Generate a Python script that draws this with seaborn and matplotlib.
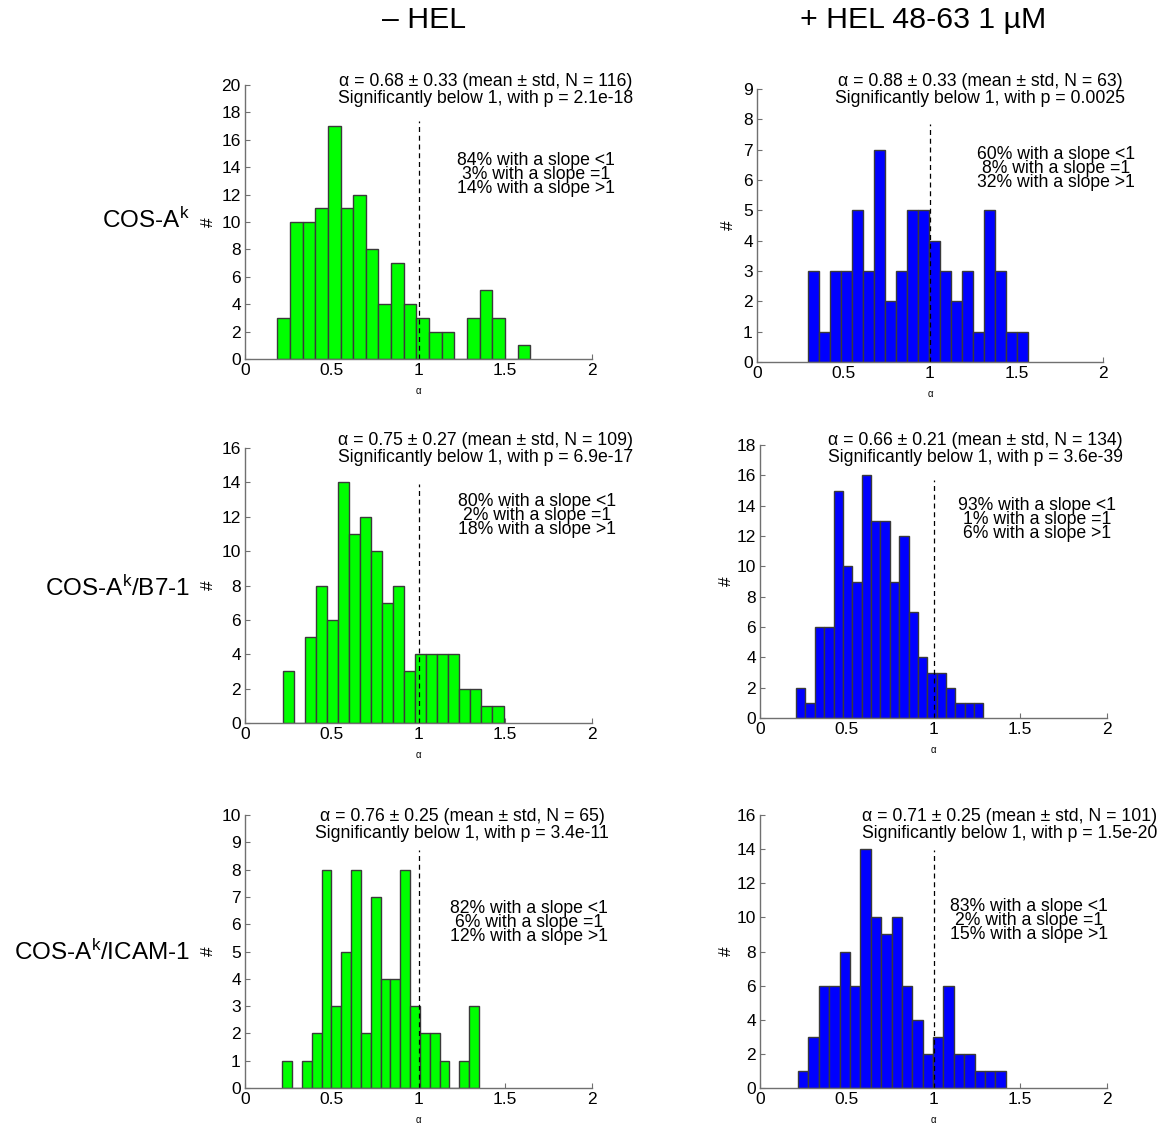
import numpy as np
import pandas as pd
import matplotlib
matplotlib.use("Agg")
import matplotlib.pyplot as plt
import seaborn as sns

# ---------------- data ----------------
col_titles = ["\u2013 HEL", "+ HEL 48-63 1 \u00b5M"]
row_titles = [r"COS-A$^{\mathrm{k}}$", r"COS-A$^{\mathrm{k}}$/B7-1", r"COS-A$^{\mathrm{k}}$/ICAM-1"]

# counts per histogram bin (20 bins each), and the bin range (min, max of alpha)
counts_cos_nohel = [3, 10, 10, 11, 17, 11, 12, 8, 4, 7, 4, 3, 2, 2, 0, 3, 5, 3, 0, 1]
range_cos_nohel = (0.186, 1.644)
counts_cos_hel = [3, 1, 3, 3, 5, 3, 7, 2, 3, 5, 5, 4, 3, 2, 3, 1, 5, 3, 1, 1]
range_cos_hel = (0.293, 1.565)
counts_b7_nohel = [3, 0, 5, 8, 6, 14, 11, 12, 10, 7, 8, 3, 4, 4, 4, 4, 2, 2, 1, 1]
range_b7_nohel = (0.217, 1.490)
counts_b7_hel = [2, 1, 6, 6, 15, 10, 9, 16, 13, 13, 9, 12, 7, 4, 3, 3, 2, 1, 1, 1]
range_b7_hel = (0.208, 1.288)
counts_icam_nohel = [1, 0, 1, 2, 8, 3, 5, 8, 2, 7, 4, 4, 8, 3, 2, 2, 1, 0, 1, 3]
range_icam_nohel = (0.215, 1.348)
counts_icam_hel = [1, 3, 6, 6, 8, 6, 14, 10, 9, 10, 6, 4, 2, 3, 6, 2, 2, 1, 1, 1]
range_icam_hel = (0.219, 1.417)

stats_line1 = [
    "\u03b1 = 0.68 \u00b1 0.33 (mean \u00b1 std, N = 116)",
    "\u03b1 = 0.88 \u00b1 0.33 (mean \u00b1 std, N = 63)",
    "\u03b1 = 0.75 \u00b1 0.27 (mean \u00b1 std, N = 109)",
    "\u03b1 = 0.66 \u00b1 0.21 (mean \u00b1 std, N = 134)",
    "\u03b1 = 0.76 \u00b1 0.25 (mean \u00b1 std, N = 65)",
    "\u03b1 = 0.71 \u00b1 0.25 (mean \u00b1 std, N = 101)",
]
stats_line2 = [
    "Significantly below 1, with p = 2.1e-18",
    "Significantly below 1, with p = 0.0025",
    "Significantly below 1, with p = 6.9e-17",
    "Significantly below 1, with p = 3.6e-39",
    "Significantly below 1, with p = 3.4e-11",
    "Significantly below 1, with p = 1.5e-20",
]
pct_below = [84, 60, 80, 93, 82, 83]
pct_equal = [3, 8, 2, 1, 6, 2]
pct_above = [14, 32, 18, 6, 12, 15]
threshold = 1.0
y_max = [20, 9, 16, 18, 10, 16]
y_step = [2, 1, 2, 2, 1, 2]
x_ticks = [0, 0.5, 1, 1.5, 2]
x_tick_labels = ["0", "0.5", "1", "1.5", "2"]

all_counts = [counts_cos_nohel, counts_cos_hel, counts_b7_nohel,
              counts_b7_hel, counts_icam_nohel, counts_icam_hel]
all_ranges = [range_cos_nohel, range_cos_hel, range_b7_nohel,
              range_b7_hel, range_icam_nohel, range_icam_hel]
colors = ["#00ff00", "#0000ff"]

# ---------------- layout (pixels) ----------------
W, H = 1172, 1124
axes_px = [  # left, top, right, bottom
    (245, 85, 592, 359),
    (757, 89, 1103, 362),
    (245, 448, 592, 723),
    (760, 445, 1107, 718),
    (245, 815, 592, 1088),
    (760, 815, 1107, 1088),
]
title_px = [(486, 82), (980, 82), (486, 441), (975, 441), (462, 817), (1010, 817)]
pct_px = [(536, 161), (1056, 155), (537, 502), (1037, 506), (529, 909), (1029, 907)]
ylab_px = [208, 728, 208, 726, 208, 726]

sns.set_style("white")
plt.rcParams["font.family"] = ["Liberation Sans", "DejaVu Sans"]
plt.rcParams["mathtext.fontset"] = "custom"
plt.rcParams["mathtext.rm"] = "Liberation Sans"
plt.rcParams["mathtext.it"] = "Liberation Sans:italic"
plt.rcParams["mathtext.bf"] = "Liberation Sans:bold"
plt.rcParams["text.color"] = "black"
plt.rcParams["axes.labelcolor"] = "black"

fig = plt.figure(figsize=(W / 100, H / 100), dpi=100)


def fx(x):
    return x / W


def fy(y):
    return 1 - y / H


spine_col = "#707070"
fs_small = 12.7
for i in range(6):
    l, t, r, b = axes_px[i]
    ax = fig.add_axes([fx(l), fy(b), (r - l) / W, (b - t) / H])
    counts = np.array(all_counts[i], dtype=float)
    lo, hi = all_ranges[i]
    edges = [float(e) for e in np.linspace(lo, hi, len(counts) + 1)]
    centers = [(edges[k] + edges[k + 1]) / 2 for k in range(len(counts))]
    df = pd.DataFrame({"alpha": centers, "n": counts})
    sns.histplot(data=df, x="alpha", weights="n", bins=edges, color=colors[i % 2],
                 edgecolor="#3a3a3a", linewidth=1.0, alpha=1.0, ax=ax)
    ax.axvline(threshold, ymin=0, ymax=0.87, color="black", linestyle=(0, (4, 3)),
               linewidth=0.9)
    ax.set_xlim(0, 2)
    ax.set_ylim(0, y_max[i])
    ax.set_xticks(x_ticks)
    ax.set_xticklabels(x_tick_labels)
    ax.set_yticks(np.arange(0, y_max[i] + 0.5, y_step[i]))
    ax.tick_params(left=True, bottom=True, direction="in", length=3.5, width=0.8,
                   color=spine_col, labelsize=12.5, pad=3, labelcolor="#000000")
    for s in ["top", "right"]:
        ax.spines[s].set_visible(False)
    for s in ["left", "bottom"]:
        ax.spines[s].set_color(spine_col)
        ax.spines[s].set_linewidth(1.0)
    ax.set_xlabel("\u03b1", fontsize=7)
    ax.xaxis.set_label_coords(0.5, -27 / (b - t))
    ax.set_ylabel("#", fontsize=12.5, rotation=90, va="center")
    ax.yaxis.set_label_coords((ylab_px[i] - l) / (r - l), 0.5)

    tx, ty = title_px[i]
    fig.text(fx(tx), fy(ty + 8), stats_line1[i] + "\n" + stats_line2[i],
             ha="center", va="center", ma="center", fontsize=fs_small, linespacing=0.97)
    px, py = pct_px[i]
    lines = [f"{pct_below[i]}% with a slope <1",
             f"{pct_equal[i]}% with a slope =1",
             f"{pct_above[i]}% with a slope >1"]
    fig.text(fx(px), fy(py + 13.5), "\n".join(lines), ha="center", va="center",
             ma="center", fontsize=fs_small, linespacing=0.74)

fig.text(fx(424), fy(20), col_titles[0], ha="center", va="center", fontsize=21.8)
fig.text(fx(923), fy(20), col_titles[1], ha="center", va="center", fontsize=21.8)
for j, yy in enumerate([220, 588, 952]):
    fig.text(fx(190), fy(yy), row_titles[j], ha="right", va="center", fontsize=17.5)

fig.savefig("out.png", dpi=100)
